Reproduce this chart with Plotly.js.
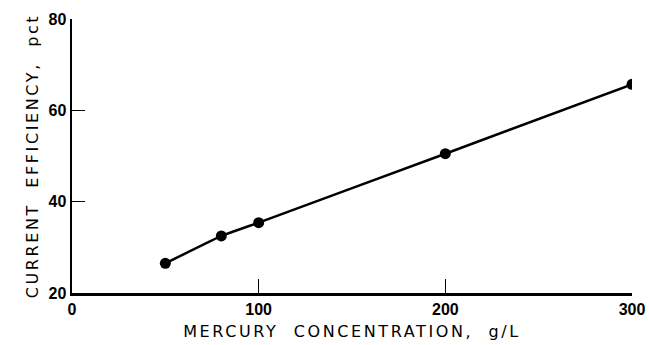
<!DOCTYPE html>
<html>
<head>
<meta charset="utf-8">
<script src="https://cdn.plot.ly/plotly-3.0.1.min.js"></script>
<style>
  html, body { margin: 0; padding: 0; background: #fff; }
  #chart { width: 649px; height: 345px; }
</style>
</head>
<body>
<div id="chart"></div>
<script>
// Data
const mercuryConcentration = [50, 80, 100, 200, 300];      // g/L
const currentEfficiency   = [26.5, 32.5, 35.4, 50.5, 65.7]; // pct

const xTickVals = [0, 100, 200, 300];
const yTickVals = [20, 40, 60, 80];

const xTitle = 'MERCURY  CONCENTRATION,  g/L';
const yTitle = 'CURRENT  EFFICIENCY,  pct';

const tickFamily = 'Liberation Sans, Arial, sans-serif';
const titleFamily = 'DejaVu Sans, Liberation Sans, Arial, sans-serif';

const trace = {
  x: mercuryConcentration,
  y: currentEfficiency,
  type: 'scatter',
  mode: 'lines+markers',
  line: { color: '#000', width: 2.5, shape: 'spline', smoothing: 0.15 },
  marker: { color: '#000', size: 11, symbol: 'circle' },
  hoverinfo: 'x+y',
  showlegend: false
};

const layout = {
  width: 649,
  height: 345,
  margin: { l: 72, r: 17, t: 19, b: 52 },
  paper_bgcolor: '#fff',
  plot_bgcolor: '#fff',
  font: { family: tickFamily, color: '#000', size: 14 },
  xaxis: {
    range: [0, 300],
    tickvals: xTickVals,
    ticktext: xTickVals.map(String),
    ticks: 'inside',
    ticklen: 14,
    tickwidth: 1.5,
    tickcolor: '#000',
    showline: true,
    linecolor: '#000',
    linewidth: 2.5,
    showgrid: false,
    zeroline: false,
    tickfont: { family: tickFamily, size: 16, color: '#000', weight: 'bold' },
    title: { text: xTitle, font: { family: titleFamily, size: 16, color: '#000' }, standoff: 9 }
  },
  yaxis: {
    range: [20, 80],
    tickvals: yTickVals,
    ticktext: yTickVals.map(String),
    ticks: 'inside',
    ticklen: 13,
    tickwidth: 1.5,
    tickcolor: '#000',
    showline: true,
    linecolor: '#000',
    linewidth: 2.5,
    showgrid: false,
    zeroline: false,
    tickfont: { family: tickFamily, size: 16, color: '#000', weight: 'bold' },
    title: { text: yTitle, font: { family: titleFamily, size: 16, color: '#000' }, standoff: 6 }
  }
};

Plotly.newPlot('chart', [trace], layout, { staticPlot: true, displayModeBar: false }).then(function () {
  document.querySelectorAll('.xtitle, .ytitle').forEach(function (el) {
    el.style.letterSpacing = '2.6px';
  });
});
</script>
</body>
</html>
